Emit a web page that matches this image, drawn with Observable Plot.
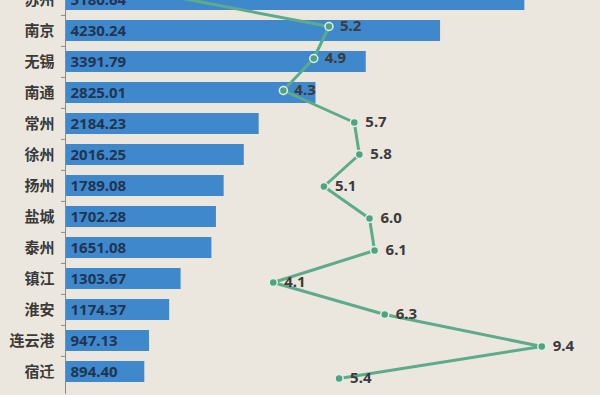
<!DOCTYPE html>
<html>
<head>
<meta charset="utf-8">
<script src="https://cdn.jsdelivr.net/npm/d3@7"></script>
<script src="https://cdn.jsdelivr.net/npm/@observablehq/plot@0.6"></script>
<style>
  html, body { margin: 0; padding: 0; background: #ebe7de; }
  #wrap { position: relative; width: 600px; height: 395px; overflow: hidden; background: #ebe7de; }
  #wrap svg { position: absolute; left: 0; top: -31.6px; background: transparent; }
</style>
</head>
<body>
<div id="wrap"></div>
<script>
const cities = ["苏州", "南京", "无锡", "南通", "常州", "徐州", "扬州", "盐城", "泰州", "镇江", "淮安", "连云港", "宿迁"];
const gdp = [5180.64, 4230.24, 3391.79, 2825.01, 2184.23, 2016.25, 1789.08, 1702.28, 1651.08, 1303.67, 1174.37, 947.13, 894.40];
const growth = [1.9, 5.2, 4.9, 4.3, 5.7, 5.8, 5.1, 6.0, 6.1, 4.1, 6.3, 9.4, 5.4];

const data = cities.map((city, i) => ({city, gdp: gdp[i], growth: growth[i]}));

const W = 600, H = 426;
const common = {
  width: W, height: H,
  marginLeft: 65, marginRight: 3, marginTop: 10, marginBottom: 0,
  style: {background: "transparent", overflow: "visible"}
};
const yScale = {domain: cities, padding: 0.32};
const font = "'Noto Sans', 'Noto Sans CJK SC', sans-serif";

const barPlot = Plot.plot({
  ...common,
  x: {domain: [0, 6000], axis: null},
  y: {...yScale, label: null},
  marks: [
    Plot.barX(data, {x: "gdp", y: "city", fill: "#3f88cc"}),
    Plot.text(data, {x: 0, y: "city", text: d => d.gdp.toFixed(2), textAnchor: "start", dx: 5,
      fill: "#1f3552", fontSize: 15, fontWeight: "bold", fontFamily: font}),
    Plot.ruleX([0], {stroke: "#8a8a8a", strokeWidth: 1}),
    Plot.axisY({tickSize: 4, tickFormat: () => "", dy: -15.6, stroke: "#8a8a8a", label: null}),
    Plot.axisY({tickSize: 0, tickPadding: 11, fontSize: 15, fontWeight: "bold",
      fontFamily: "'Noto Sans CJK SC', sans-serif", color: "#3a3a3a", label: null})
  ]
});

const linePlot = Plot.plot({
  ...common,
  x: {domain: [0, 10.5], axis: null},
  y: {...yScale, axis: null},
  marks: [
    Plot.line(data, {x: "growth", y: "city", stroke: "#5cab8a", strokeWidth: 3}),
    Plot.dot(data, {x: "growth", y: "city", r: 4, fill: "#4fa37f", stroke: "#e2f1e8", strokeWidth: 1.5}),
    Plot.text(data, {x: "growth", y: "city", text: d => d.growth.toFixed(1), textAnchor: "start", dx: 11,
      fill: "#3b3b3b", fontSize: 15, fontWeight: "bold", fontFamily: font})
  ]
});

const wrap = document.getElementById("wrap");
wrap.appendChild(barPlot);
wrap.appendChild(linePlot);
</script>
</body>
</html>
